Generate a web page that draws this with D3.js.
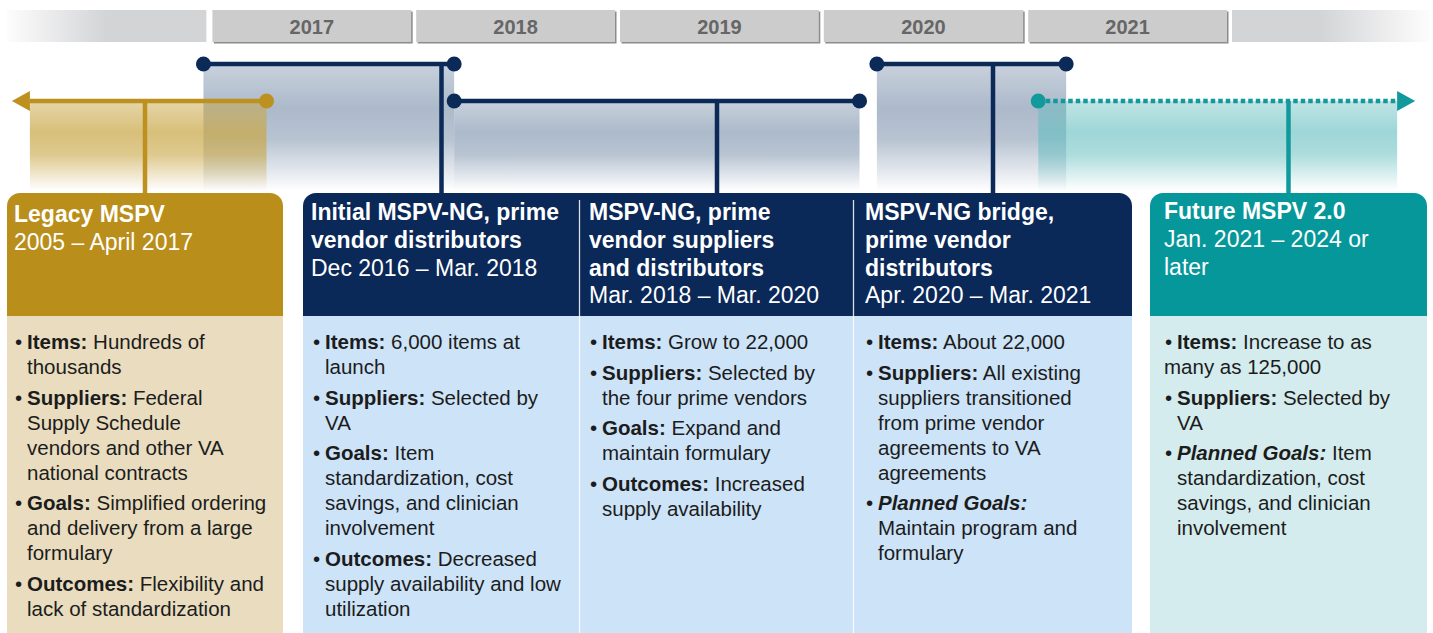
<!DOCTYPE html>
<html><head><meta charset="utf-8">
<script src="https://cdn.jsdelivr.net/npm/d3@7"></script>
<style>
html,body{margin:0;padding:0;background:#fff;}
svg{display:block;font-family:Arial,"Liberation Sans",Helvetica,sans-serif;}
text{white-space:pre;}
</style></head><body>
<svg id="chart" width="1433" height="633"></svg>
<script>
// ---------- data ----------
const years = [2017, 2018, 2019, 2020, 2021];
const periodIds = ["legacy", "initial", "suppliers", "bridge", "future"];
const periodStart = ["2016-01-08", "2016-12-16", "2018-03-10", "2020-04-05", "2021-01-19"];
const periodEnd   = ["2017-04-08", "2018-03-10", "2020-03-05", "2021-03-10", "2022-11-25"];
const periodLane  = [1, 0, 1, 0, 1];
const periodOpenStart = [true, false, false, false, false];
const periodOpenEnd   = [false, false, false, false, true];
const periodPlanned   = [false, false, false, false, true];
const periodTheme = ["gold", "navy", "navy", "navy", "teal"];

const titleLines = [
  ["Legacy MSPV"],
  ["Initial MSPV-NG, prime", "vendor distributors"],
  ["MSPV-NG, prime", "vendor suppliers", "and distributors"],
  ["MSPV-NG bridge,", "prime vendor", "distributors"],
  ["Future MSPV 2.0"]
];
const dateLines = [
  ["2005 \u2013 April 2017"],
  ["Dec 2016 \u2013 Mar. 2018"],
  ["Mar. 2018 \u2013 Mar. 2020"],
  ["Apr. 2020 \u2013 Mar. 2021"],
  ["Jan. 2021 \u2013 2024 or", "later"]
];
const bulletLabels = [
  ["Items:", "Suppliers:", "Goals:", "Outcomes:"],
  ["Items:", "Suppliers:", "Goals:", "Outcomes:"],
  ["Items:", "Suppliers:", "Goals:", "Outcomes:"],
  ["Items:", "Suppliers:", "Planned Goals:"],
  ["Items:", "Suppliers:", "Planned Goals:"]
];
const bulletTexts = [
  [["Hundreds of", "thousands"],
   ["Federal", "Supply Schedule", "vendors and other VA", "national contracts"],
   ["Simplified ordering", "and delivery from a large", "formulary"],
   ["Flexibility and", "lack of standardization"]],
  [["6,000 items at", "launch"],
   ["Selected by", "VA"],
   ["Item", "standardization, cost", "savings, and clinician", "involvement"],
   ["Decreased", "supply availability and low", "utilization"]],
  [["Grow to 22,000"],
   ["Selected by", "the four prime vendors"],
   ["Expand and", "maintain formulary"],
   ["Increased", "supply availability"]],
  [["About 22,000"],
   ["All existing", "suppliers transitioned", "from prime vendor", "agreements to VA", "agreements"],
   ["", "Maintain program and", "formulary"]],
  [["Increase to as", "many as 125,000"],
   ["Selected by", "VA"],
   ["Item", "standardization, cost", "savings, and clinician", "involvement"]]
];
const bulletOutdent = [[], [], [], [], [true, false, false]];

// ---------- styles / layout ----------
const theme = {
  gold: {line: "#BD911F", head: "#B98E1A", body: "#E9DCBF", fill: "#C9A746", op: 0.72},
  navy: {line: "#0C2A57", head: "#0A2858", body: "#CCE3F8", fill: "#97A8BD", op: 0.8},
  teal: {line: "#12999B", head: "#06979A", body: "#D4ECEE", fill: "#63BDBF", op: 0.62}
};
const cardX = [[7, 283], [303, 580], [580, 854], [854, 1132], [1150, 1427]];
const headTop = 193, headBottom = 316, bodyBottom = 640;
const headPad = [7, 8, 9, 11, 14];
const headFirst = [222, 220, 220, 220, 219];
const bulletPad = [8, 10, 10, 12, 15];
const textIndent = 12;
const laneY = [64, 101];
const fillBottom = 190;
const arrowLen = 18, arrowHalf = 10;

const svg = d3.select("#chart");
const defs = svg.append("defs");
const parse = d3.timeParse("%Y-%m-%d");
const x = d3.scaleTime()
  .domain([new Date(2016, 0, 1), new Date(2022, 0, 1)])
  .range([8, 1232]);

// gradients
Object.entries(theme).forEach(([k, t]) => {
  const g = defs.append("linearGradient").attr("id", "fill-" + k)
    .attr("x1", 0).attr("y1", 0).attr("x2", 0).attr("y2", 1);
  [[0, 0.65], [0.35, 1], [0.6, 0.85], [1, 0.02]].forEach(([o, a]) =>
    g.append("stop").attr("offset", o).attr("stop-color", t.fill).attr("stop-opacity", a * t.op));
});
const lg = defs.append("linearGradient").attr("id", "strip-left").attr("x1", 0).attr("x2", 1).attr("y1", 0).attr("y2", 0);
lg.append("stop").attr("offset", 0).attr("stop-color", "#d3d4d6").attr("stop-opacity", 0.05);
lg.append("stop").attr("offset", 0.5).attr("stop-color", "#d3d4d6").attr("stop-opacity", 1);
lg.append("stop").attr("offset", 1).attr("stop-color", "#d3d4d6").attr("stop-opacity", 1);
const rg = defs.append("linearGradient").attr("id", "strip-right").attr("x1", 0).attr("x2", 1).attr("y1", 0).attr("y2", 0);
rg.append("stop").attr("offset", 0).attr("stop-color", "#d3d4d6").attr("stop-opacity", 1);
rg.append("stop").attr("offset", 0.45).attr("stop-color", "#d3d4d6").attr("stop-opacity", 1);
rg.append("stop").attr("offset", 1).attr("stop-color", "#d3d4d6").attr("stop-opacity", 0.05);

// ---------- year strip ----------
const yTop = 10, yBot = 42;
const firstYear = new Date(years[0] - 1, 0, 1), lastYear = new Date(years[years.length - 1] + 1, 0, 1);
svg.append("rect").attr("x", x(firstYear) - 1).attr("y", yTop)
  .attr("width", x(new Date(years[0], 0, 1)) - 6 - x(firstYear) + 1).attr("height", yBot - yTop)
  .attr("fill", "url(#strip-left)");
svg.append("rect").attr("x", x(lastYear)).attr("y", yTop)
  .attr("width", 198).attr("height", yBot - yTop)
  .attr("fill", "url(#strip-right)");
const yg = svg.append("g").selectAll("g").data(years).join("g");
yg.append("rect")
  .attr("x", d => x(new Date(d, 0, 1)) + 1.5).attr("y", yTop + 1.5)
  .attr("width", d => x(new Date(d + 1, 0, 1)) - x(new Date(d, 0, 1)) - 5).attr("height", yBot - yTop)
  .attr("fill", "#8c8c8c");
yg.append("rect")
  .attr("x", d => x(new Date(d, 0, 1))).attr("y", yTop)
  .attr("width", d => x(new Date(d + 1, 0, 1)) - x(new Date(d, 0, 1)) - 5).attr("height", yBot - yTop)
  .attr("fill", "#cccccc");
yg.append("text")
  .attr("x", d => (x(new Date(d, 0, 1)) + x(new Date(d + 1, 0, 1)) - 5) / 2)
  .attr("y", 33.5).attr("text-anchor", "middle")
  .attr("font-size", 20).attr("font-weight", "bold").attr("fill", "#666666")
  .text(d => d);

// ---------- periods ----------
const periods = periodIds.map((id, i) => {
  const xs = x(parse(periodStart[i])), xe = x(parse(periodEnd[i]));
  return {
    id, i, t: theme[periodTheme[i]], key: periodTheme[i],
    xs, xe, y: laneY[periodLane[i]],
    fx0: periodOpenStart[i] ? xs + arrowLen : xs,
    fx1: periodOpenEnd[i] ? xe - arrowLen : xe,
    cx: (cardX[i][0] + cardX[i][1]) / 2
  };
});
const order = periods.slice().sort((a, b) => (a.key === "navy" ? 0 : 1) - (b.key === "navy" ? 0 : 1));
svg.append("g").selectAll("rect").data(order).join("rect")
  .attr("x", d => d.fx0).attr("y", d => d.y)
  .attr("width", d => d.fx1 - d.fx0).attr("height", d => fillBottom - d.y)
  .attr("fill", d => "url(#fill-" + d.key + ")");

const lines = svg.append("g");
periods.forEach(d => {
  lines.append("line").attr("x1", d.cx).attr("x2", d.cx).attr("y1", d.y).attr("y2", headTop + 1)
    .attr("stroke", d.t.line).attr("stroke-width", 4.5);
  lines.append("line").attr("x1", d.fx0).attr("x2", d.fx1).attr("y1", d.y).attr("y2", d.y)
    .attr("stroke", d.t.line).attr("stroke-width", 4.5)
    .attr("stroke-dasharray", periodPlanned[d.i] ? "4.5 3" : null);
  if (periodOpenStart[d.i]) {
    lines.append("path").attr("d", `M${d.xs},${d.y} L${d.xs + arrowLen},${d.y - arrowHalf} L${d.xs + arrowLen},${d.y + arrowHalf} Z`).attr("fill", d.t.line);
  } else {
    lines.append("circle").attr("cx", d.xs).attr("cy", d.y).attr("r", 7.5).attr("fill", d.t.line);
  }
  if (periodOpenEnd[d.i]) {
    lines.append("path").attr("d", `M${d.xe},${d.y} L${d.xe - arrowLen},${d.y - arrowHalf} L${d.xe - arrowLen},${d.y + arrowHalf} Z`).attr("fill", d.t.line);
  } else {
    lines.append("circle").attr("cx", d.xe).attr("cy", d.y).attr("r", 7.5).attr("fill", d.t.line);
  }
});

// ---------- cards ----------
function roundTop(x0, x1, y0, y1, rl, rr) {
  let p = `M${x0},${y1} L${x0},${y0 + rl}`;
  if (rl) p += ` A${rl},${rl} 0 0 1 ${x0 + rl},${y0}`;
  p += ` L${x1 - rr},${y0}`;
  if (rr) p += ` A${rr},${rr} 0 0 1 ${x1},${y0 + rr}`;
  return p + ` L${x1},${y1} Z`;
}
const cards = svg.append("g");
periods.forEach((d, i) => {
  const [x0, x1] = cardX[i];
  const prevSame = i > 0 && periodTheme[i - 1] === periodTheme[i];
  const nextSame = i < periods.length - 1 && periodTheme[i + 1] === periodTheme[i];
  cards.append("path").attr("d", roundTop(x0, x1, headTop, headBottom, prevSame ? 0 : 13, nextSame ? 0 : 13))
    .attr("fill", d.t.head);
  cards.append("rect").attr("x", x0).attr("y", headBottom).attr("width", x1 - x0).attr("height", bodyBottom - headBottom)
    .attr("fill", d.t.body);
  if (prevSame) {
    cards.append("line").attr("x1", x0 - 0.5).attr("x2", x0 - 0.5).attr("y1", 200).attr("y2", bodyBottom)
      .attr("stroke", "#ffffff").attr("stroke-opacity", 0.85).attr("stroke-width", 1.3);
  }
  let hy = headFirst[i];
  const hx = x0 + headPad[i];
  titleLines[i].forEach(s => {
    cards.append("text").attr("x", hx).attr("y", hy).attr("font-size", 23).attr("font-weight", "bold")
      .attr("fill", "#fff").text(s);
    hy += 27.8;
  });
  dateLines[i].forEach(s => {
    cards.append("text").attr("x", hx).attr("y", hy).attr("font-size", 23)
      .attr("fill", "#fff").text(s);
    hy += 27.8;
  });
  let by = 349;
  const bx = x0 + bulletPad[i], tx = bx + textIndent;
  bulletLabels[i].forEach((lab, bi) => {
    const parts = bulletTexts[i][bi];
    const t = cards.append("text").attr("y", by).attr("font-size", 20.5).attr("fill", "#1c1c1c");
    t.append("tspan").attr("x", bx).text("\u2022");
    t.append("tspan").attr("x", tx).attr("font-weight", "bold")
      .attr("font-style", lab.startsWith("Planned") ? "italic" : null).text(lab);
    if (parts[0]) t.append("tspan").text(" " + parts[0]);
    by += 25;
    parts.slice(1).forEach(s => {
      cards.append("text").attr("x", (bulletOutdent[i] && bulletOutdent[i][bi]) ? bx - 1 : tx)
        .attr("y", by).attr("font-size", 20.5).attr("fill", "#1c1c1c").text(s);
      by += 25;
    });
    by += 5.5;
  });
});
</script>
</body></html>
